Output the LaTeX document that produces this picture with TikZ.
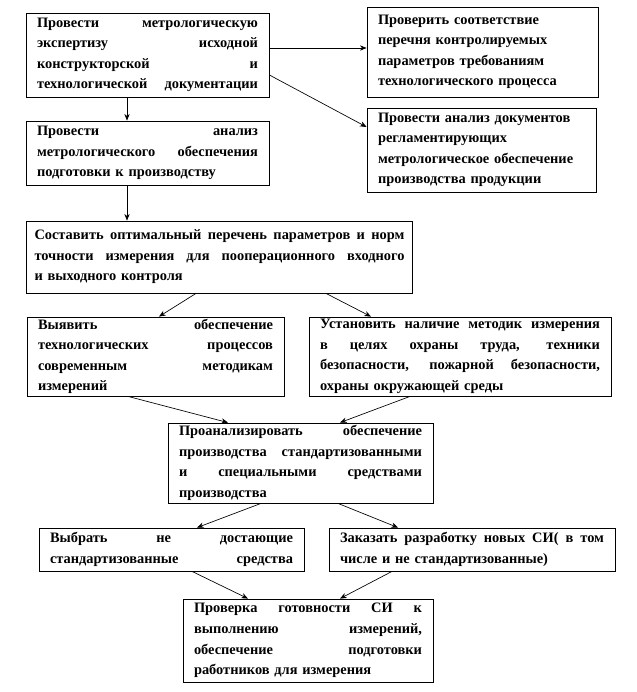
\documentclass[tikz,border=0pt]{standalone}
\usepackage{fontspec}
\setmainfont{Liberation Serif}
\usetikzlibrary{arrows.meta,calc}
\newcommand{\jline}[1]{\makebox[\hsize][s]{\spaceskip=0.25em plus 1fil\relax #1}}

\begin{document}
\begin{tikzpicture}[x=0.75pt, y=-0.75pt,
    stepbox/.style={rectangle, draw=black, line width=0.6pt, fill=white, inner xsep=8.25pt, inner ysep=1pt, align=left, font=\fontsize{10.8}{15.4}\selectfont\bfseries},
    arrow/.style={line width=0.5pt, -{Stealth[length=5pt, width=4pt]}}
]
    \useasboundingbox[fill=white] (0,0) rectangle (636,692);

    % Top row: expertise and its two side checks
    \node[stepbox, text width=165.75pt, minimum height=63pt] (expert) at (147.5, 55) {\jline{Провести метрологическую}\\\jline{экспертизу исходной}\\\jline{конструкторской и}\\\jline{технологической документации}};
    \node[stepbox, text width=156.75pt, minimum height=67.5pt] (params) at (482.5, 52) {Проверить соответствие\\перечня контролируемых\\параметров требованиям\\технологического процесса};
    \node[stepbox, text width=155.25pt, minimum height=63pt] (docs) at (481.5, 150) {Провести анализ документов\\регламентирующих\\метрологическое обеспечение\\производства продукции};
    \node[stepbox, text width=165.75pt, minimum height=48pt] (support) at (147.5, 153) {\jline{Провести анализ}\\\jline{метрологического обеспечения}\\подготовки к производству};

    % Middle blocks
    \node[stepbox, text width=277.5pt, inner xsep=6pt, minimum height=54pt] (norms) at (219.5, 257) {\jline{Составить оптимальный перечень параметров и норм}\\\jline{точности измерения для пооперационного входного}\\и выходного контроля};
    \node[stepbox, text width=176.25pt, minimum height=59.25pt] (methods) at (155.5, 356.5) {\jline{Выявить обеспечение}\\\jline{технологических процессов}\\\jline{современным методикам}\\измерений};
    \node[stepbox, text width=210pt, minimum height=59.25pt] (safety) at (460, 356.5) {\jline{Установить наличие методик измерения}\\\jline{в целях охраны труда, техники}\\\jline{безопасности, пожарной безопасности,}\\охраны окружающей среды};
    \node[stepbox, text width=182.25pt, minimum height=60pt] (means) at (300.5, 463) {\jline{Проанализировать обеспечение}\\\jline{производства стандартизованными}\\\jline{и специальными средствами}\\производства};

    % Bottom blocks
    \node[stepbox, text width=182.25pt, minimum height=32.25pt] (choose) at (171.5, 549.5) {\jline{Выбрать не достающие}\\\jline{стандартизованные средства}};
    \node[stepbox, text width=198pt, minimum height=32.25pt] (order) at (472, 549.5) {\jline{Заказать разработку новых СИ( в том}\\числе и не стандартизованные)};
    \node[stepbox, text width=171pt, minimum height=62.25pt] (ready) at (308, 640.5) {\jline{Проверка готовности СИ к}\\\jline{выполнению измерений,}\\\jline{обеспечение подготовки}\\работников для измерения};

    % Connectors
    \draw[arrow] ($(expert.east)+(0,-7)$) -- ($(params.west)+(0,-4)$);
    \draw[arrow] ($(expert.east)+(0,20)$) -- ($(docs.west)+(0,-23)$);
    \draw[arrow] ($(expert.south)+(-20.5,0)$) -- ($(support.north)+(-20.5,0)$);
    \draw[arrow] ($(support.south)+(-20.5,0)$) -- ($(norms.north)+(-92.5,0)$);
    \draw[arrow] ($(norms.south)+(-23.5,0)$) -- ($(methods.north)+(3.5,0)$);
    \draw[arrow] ($(norms.south)+(106.5,0)$) -- ($(safety.north)+(-89,0)$);
    \draw[arrow] ($(methods.south)+(-27.5,0)$) -- ($(means.north)+(-72.5,0)$);
    \draw[arrow] ($(safety.south)+(-50,0)$) -- ($(means.north)+(39.5,0)$);
    \draw[arrow] ($(means.south)+(-39.5,0)$) -- ($(choose.north)+(25.5,0)$);
    \draw[arrow] ($(means.south)+(37.5,0)$) -- ($(order.north)+(-74,0)$);
    \draw[arrow] ($(choose.south)+(20.5,0)$) -- ($(ready.north)+(-60,0)$);
    \draw[arrow] ($(order.south)+(-80,0)$) -- ($(ready.north)+(32,0)$);

\end{tikzpicture}
\end{document}
